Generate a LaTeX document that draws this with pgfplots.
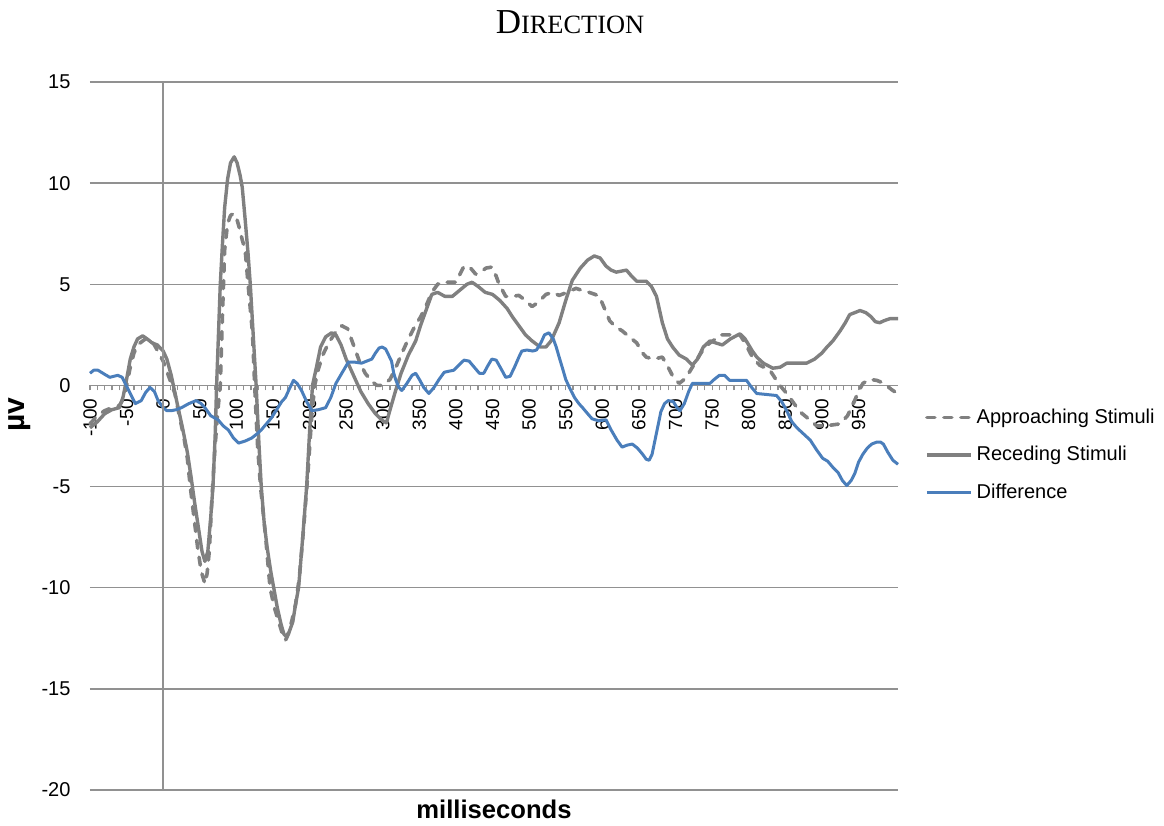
\documentclass[border=0pt]{standalone}
\usepackage{pgfplots}
\pgfplotsset{compat=1.18}
\usepackage{fontspec}
\setmainfont{Liberation Sans}
\newfontfamily\seriffont{Liberation Serif}
\definecolor{linegray}{RGB}{128,128,128}
\definecolor{gridgray}{RGB}{145,145,145}
\definecolor{diffblue}{RGB}{74,126,187}

\pgfplotstableread{
t v
-100 -1.9
-90 -1.5
-80 -1.25
-70 -1.1
-60 -1.0
-55 -0.7
-50 0.0
-45 0.9
-40 1.6
-35 2.0
-28 2.2
-22 2.35
-18 2.3
-12 2.0
-6 1.6
0 1.2
5 0.7
10 0.2
16 -0.4
22 -1.5
28 -2.5
33 -3.6
37 -5.0
42 -6.5
47 -8.0
52 -9.2
57 -9.8
60 -9.3
63 -8.2
66 -6.0
70 -3.5
74 -1.5
78 0
81 3.5
84 6.7
88 8.0
92 8.4
96 8.5
100 8.3
104 7.8
108 7.2
112 6.7
116 5.0
122 2.6
125 0
129 -3
133 -5
140 -7.5
146 -10
152 -11.0
158 -11.7
163 -12.3
167 -12.6
171 -12.3
176 -11.6
181 -10.8
186 -9.5
192 -7.0
198 -4.2
203 -1.5
207 0
212 0.8
218 1.5
226 2.1
235 2.6
244 2.95
252 2.8
260 2.0
268 1.2
276 0.6
285 0.2
292 0.0
300 0.0
310 0.3
318 0.9
325 1.5
335 2.3
345 3.0
352 3.4
360 4.0
367 4.6
375 5.0
381 5.1
390 5.1
400 5.1
411 5.9
420 5.8
427 5.5
434 5.6
441 5.8
449 5.85
455 5.4
459 5.0
468 4.4
476 4.4
486 4.45
495 4.2
504 3.9
512 4.1
523 4.5
532 4.6
541 4.45
552 4.6
564 4.8
572 4.7
582 4.6
590 4.5
596 4.4
603 3.8
610 3.2
618 2.9
627 2.7
637 2.4
647 2.1
655 1.6
660 1.4
670 1.3
682 1.4
690 0.9
697 0.4
705 0.1
712 0.3
718 0.6
723 0.9
733 1.5
740 1.9
747 2.1
755 2.3
762 2.5
770 2.5
780 2.5
788 2.5
795 2.1
805 1.4
815 1.0
829 0.75
838 0.25
845 -0.1
852 -0.4
860 -0.8
870 -1.3
880 -1.6
893 -2.0
905 -2.0
915 -1.95
925 -1.9
935 -1.5
943 -0.9
950 -0.3
956 0.1
965 0.3
975 0.25
985 0.1
995 -0.2
1003 -0.4
}\approaching

\pgfplotstableread{
t v
-100 -2.1
-90 -1.8
-80 -1.4
-70 -1.2
-60 -1.1
-55 -0.6
-50 0.3
-45 1.3
-40 1.9
-35 2.3
-28 2.45
-22 2.3
-15 2.1
-8 2.0
0 1.7
5 1.3
11 0.5
18 -0.7
27 -2.2
33 -3.3
38 -4.5
43 -5.8
48 -7.0
53 -8.2
57 -8.7
61 -8.2
65 -6.5
68 -5.0
71 -2.5
73 0
76 3
78 5
81 7
84 8.8
88 10.2
92 11.0
97 11.3
101 11.0
105 10.4
108 9.8
112 8.2
116 6.5
119 5.0
123 2.5
127 0
131 -3
134 -5
138 -6.8
142 -8.0
147 -9.2
151 -10.0
156 -11.0
161 -11.8
165 -12.3
168 -12.4
172 -12.2
177 -11.7
181 -10.8
185 -10.0
190 -7.8
196 -5.0
200 -2.3
204 0
210 1.0
215 1.9
222 2.4
230 2.6
236 2.5
243 2.0
250 1.3
260 0.5
270 -0.3
280 -0.9
290 -1.4
300 -1.75
305 -1.85
310 -1.2
318 -0.2
325 0.6
335 1.5
345 2.2
352 3.0
360 3.8
367 4.5
375 4.6
385 4.4
395 4.4
405 4.7
415 5.0
422 5.1
430 4.9
440 4.6
450 4.5
460 4.2
470 3.8
477 3.4
485 3.0
495 2.5
504 2.2
515 1.9
523 1.9
530 2.2
541 3.1
550 4.2
559 5.2
570 5.8
580 6.2
589 6.4
597 6.3
605 5.9
612 5.7
619 5.6
633 5.7
640 5.4
647 5.15
660 5.15
667 4.9
674 4.4
682 3.1
689 2.3
696 1.9
705 1.5
715 1.3
723 1.0
730 1.3
738 1.9
747 2.2
755 2.1
764 2.0
775 2.3
788 2.55
795 2.3
805 1.7
811 1.4
820 1.1
833 0.85
843 0.9
852 1.1
865 1.1
879 1.1
890 1.3
900 1.6
907 1.9
915 2.2
925 2.7
932 3.1
938 3.5
945 3.6
952 3.7
960 3.6
967 3.4
973 3.15
979 3.1
985 3.2
993 3.3
1004 3.3
}\receding

\pgfplotstableread{
t v
-100 0.6
-95 0.75
-89 0.75
-80 0.55
-73 0.4
-62 0.5
-56 0.4
-52 0.1
-45 -0.4
-38 -0.9
-30 -0.75
-24 -0.35
-18 -0.1
-12 -0.3
-7 -0.75
0 -1.1
5 -1.25
11 -1.25
18 -1.2
25 -1.1
35 -0.9
45 -0.75
52 -0.9
57 -1.1
65 -1.5
75 -1.7
82 -2.0
89 -2.2
96 -2.6
103 -2.85
112 -2.75
121 -2.6
128 -2.4
134 -2.2
141 -1.9
148 -1.6
155 -1.2
162 -0.8
167 -0.6
172 -0.2
178 0.25
183 0.1
189 -0.25
196 -0.8
203 -1.25
212 -1.2
222 -1.1
229 -0.6
236 0.1
244 0.6
253 1.15
262 1.15
271 1.1
278 1.2
285 1.3
290 1.6
295 1.85
299 1.9
304 1.8
308 1.5
312 1.2
315 0.6
318 0.25
322 -0.1
326 -0.25
333 0.1
340 0.5
345 0.6
350 0.3
356 -0.1
363 -0.4
370 -0.1
377 0.3
384 0.65
390 0.7
397 0.75
404 1.0
411 1.25
418 1.2
425 0.9
432 0.6
438 0.6
444 1.0
449 1.3
455 1.25
462 0.8
468 0.4
474 0.45
480 0.9
486 1.4
490 1.7
497 1.75
505 1.7
510 1.75
516 2.1
521 2.5
527 2.6
533 2.3
537 1.9
541 1.4
546 0.8
550 0.3
555 -0.1
562 -0.6
568 -0.9
573 -1.1
580 -1.4
586 -1.65
595 -1.75
605 -1.7
612 -2.2
620 -2.7
627 -3.05
634 -2.95
641 -2.9
648 -3.1
655 -3.4
660 -3.65
664 -3.7
668 -3.4
672 -2.7
676 -2.0
680 -1.3
685 -0.9
690 -0.75
697 -0.8
702 -1.1
706 -1.25
712 -0.9
718 -0.3
723 0.1
735 0.1
747 0.1
753 0.3
760 0.5
767 0.5
774 0.25
785 0.25
797 0.25
804 -0.1
811 -0.4
825 -0.45
838 -0.5
845 -0.8
852 -1.25
859 -1.8
866 -2.1
875 -2.4
884 -2.7
893 -3.2
901 -3.6
908 -3.75
915 -4.05
922 -4.3
928 -4.7
934 -4.95
940 -4.7
945 -4.35
950 -3.8
956 -3.4
962 -3.1
968 -2.9
975 -2.8
980 -2.8
984 -2.9
990 -3.3
997 -3.7
1004 -3.9
}\difference

\begin{document}
\begin{tikzpicture}
\begin{axis}[
  scale only axis,
  width=404pt, height=354pt,
  xmin=-100, xmax=1004,
  ymin=-20, ymax=15,
  axis x line=middle,
  axis y line=left,
  axis line style={-, draw=gridgray, line width=0.75pt},
  y axis line style={draw=none},
  hide obscured x ticks=false,
  xtick={-100,-50,...,950},
  minor x tick num=4,
  ytick={-20,-15,...,15},
  ymajorgrids,
  grid style={draw=gridgray, line width=0.75pt},
  ytick style={draw=none},
  xtick style={draw=gridgray, line width=0.6pt},
  xtick align=outside,
  major tick length=2.5pt, minor tick length=2.5pt,
  xticklabel shift=3pt,
  xticklabel style={rotate=90, anchor=east, font=\fontsize{9.5}{10}\selectfont, inner sep=1pt},
  yticklabel style={font=\fontsize{10}{12}\selectfont, xshift=-5pt},
  /pgf/number format/assume math mode=true,
  xlabel={\textbf{milliseconds}},
  xlabel style={at={(rel axis cs:0.5,-0.004)}, anchor=north, font=\fontsize{12.8}{14}\selectfont},
  ylabel={\textbf{µv}},
  ylabel style={at={(rel axis cs:-0.064,0.53)}, anchor=south, rotate=0, font=\fontsize{15}{16}\selectfont},
  title={{\seriffont\fontsize{17.5}{18}\selectfont D\fontsize{13.2}{14}\selectfont IRECTION}},
  title style={at={(0.5,1)}, anchor=base, yshift=18pt, xshift=38pt},
  legend style={at={(1.033,0.473)}, anchor=west, draw=none, fill=none,
    font=\fontsize{10}{12}\selectfont, row sep=6pt, inner sep=0pt},
  legend cell align=left,
  legend image code/.code={\draw[#1] (0pt,0pt) -- (22pt,0pt);},
  clip=false,
]
\addplot[linegray, line width=1.8pt, line cap=round, line join=round, dash pattern=on 4pt off 4.5pt] table[x=t,y=v] {\approaching};
\addlegendentry{Approaching Stimuli}
\addplot[linegray, line width=1.7pt, line join=round] table[x=t,y=v] {\receding};
\addlegendentry{Receding Stimuli}
\addplot[diffblue, line width=1.5pt, line join=round] table[x=t,y=v] {\difference};
\addlegendentry{Difference}
\draw[gridgray, line width=0.75pt] (axis cs:0,-20) -- (axis cs:0,15);
\coordinate (bl) at (rel axis cs:0,0);
\coordinate (tr) at (rel axis cs:1,1);
\end{axis}
\path (bl) ++(-45pt,-18pt);
\path (tr) ++(133pt,41pt);
\end{tikzpicture}
\end{document}
